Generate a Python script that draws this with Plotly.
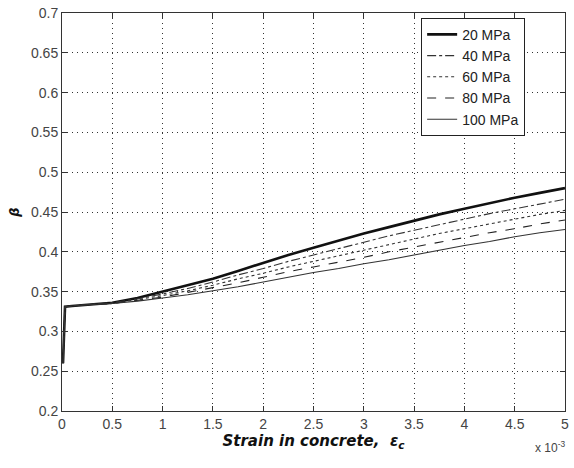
import plotly.graph_objects as go

# strain in units of 1e-3
strain = [0.0, 0.01, 0.03, 0.1, 0.3, 0.5, 0.75, 1.0, 1.25, 1.5, 1.75, 2.0, 2.25, 2.5, 2.75, 3.0, 3.25, 3.5, 3.75, 4.0, 4.25, 4.5, 4.75, 5.0]
beta_20 = [None, 0.26, 0.331, 0.332, 0.334, 0.336, 0.342, 0.350, 0.358, 0.366, 0.376, 0.386, 0.396, 0.405, 0.414, 0.423, 0.431, 0.439, 0.447, 0.454, 0.461, 0.468, 0.474, 0.480]
beta_40 = [None, 0.26, 0.331, 0.332, 0.334, 0.336, 0.341, 0.347, 0.354, 0.362, 0.371, 0.379, 0.388, 0.396, 0.404, 0.412, 0.420, 0.427, 0.434, 0.441, 0.448, 0.454, 0.460, 0.466]
beta_60 = [None, 0.26, 0.331, 0.332, 0.334, 0.335, 0.340, 0.345, 0.351, 0.358, 0.366, 0.373, 0.381, 0.388, 0.395, 0.402, 0.409, 0.416, 0.423, 0.429, 0.435, 0.441, 0.447, 0.452]
beta_80 = [None, 0.26, 0.331, 0.332, 0.334, 0.335, 0.339, 0.343, 0.349, 0.355, 0.361, 0.368, 0.375, 0.381, 0.387, 0.393, 0.400, 0.406, 0.412, 0.418, 0.424, 0.429, 0.435, 0.440]
beta_100 = [None, 0.26, 0.331, 0.332, 0.334, 0.335, 0.338, 0.342, 0.346, 0.351, 0.356, 0.362, 0.368, 0.374, 0.379, 0.385, 0.390, 0.396, 0.402, 0.408, 0.413, 0.419, 0.424, 0.428]

series_names = ["20 MPa", "40 MPa", "60 MPa", "80 MPa", "100 MPa"]
series_vals = [beta_20, beta_40, beta_60, beta_80, beta_100]
styles = [
    dict(width=2.6, dash="solid", color="#111111"),
    dict(width=1.1, dash="dashdot", color="#333333"),
    dict(width=1.1, dash="dot", color="#333333"),
    dict(width=1.1, dash="dash", color="#222222"),
    dict(width=1.1, dash="solid", color="#333333"),
]

x_ticks = [0, 0.5, 1, 1.5, 2, 2.5, 3, 3.5, 4, 4.5, 5]
x_ticktext = ["0", "0.5", "1", "1.5", "2", "2.5", "3", "3.5", "4", "4.5", "5"]
y_ticks = [0.2, 0.25, 0.3, 0.35, 0.4, 0.45, 0.5, 0.55, 0.6, 0.65, 0.7]
y_ticktext = ["0.2", "0.25", "0.3", "0.35", "0.4", "0.45", "0.5", "0.55", "0.6", "0.65", "0.7"]

fig = go.Figure()
for name, vals, st in zip(series_names, series_vals, styles):
    fig.add_trace(go.Scatter(x=strain, y=vals, mode="lines", name=name, line=st, connectgaps=False))

tickfont = dict(family="Liberation Sans, Arial, sans-serif", size=14, color="#444444")
grid_dash = "1px,4px"
fig.update_layout(
    width=574, height=468,
    margin=dict(l=62, r=5, t=12, b=57),
    paper_bgcolor="white", plot_bgcolor="white",
    showlegend=True,
    legend=dict(x=0.714, y=0.988, xanchor="left", yanchor="top",
                bgcolor="white", bordercolor="#222222", borderwidth=1,
                font=dict(family="Liberation Sans, Arial, sans-serif", size=14, color="#222222"),
                tracegroupgap=0, itemwidth=30),
    xaxis=dict(range=[0, 5], tickvals=x_ticks, ticktext=x_ticktext, tickfont=tickfont,
               showgrid=True, gridcolor="#333333", griddash=grid_dash, gridwidth=1,
               showline=True, linecolor="#333333", linewidth=1, mirror="ticks",
               ticks="inside", ticklen=5, tickcolor="#333333", zeroline=False,
               title=dict(text="<b><i>Strain in concrete,  ε<sub>c</sub></i></b>",
                          font=dict(family="DejaVu Sans, sans-serif", size=15, color="#111111"),
                          standoff=0)),
    yaxis=dict(range=[0.2, 0.7], tickvals=y_ticks, ticktext=y_ticktext, tickfont=tickfont,
               showgrid=True, gridcolor="#333333", griddash=grid_dash, gridwidth=1,
               showline=True, linecolor="#333333", linewidth=1, mirror="ticks",
               ticks="inside", ticklen=5, tickcolor="#333333", zeroline=False,
               title=dict(text="<b><i>β</i></b>",
                          font=dict(family="DejaVu Sans, sans-serif", size=13, color="#111111"),
                          standoff=8)),
)
fig.add_annotation(text="x 10<sup>-3</sup>", xref="paper", yref="paper", x=1.003, y=-0.09,
                   xanchor="right", yanchor="middle", showarrow=False,
                   font=dict(family="Liberation Sans, Arial, sans-serif", size=12, color="#444444"))

fig.write_html("out.html")
